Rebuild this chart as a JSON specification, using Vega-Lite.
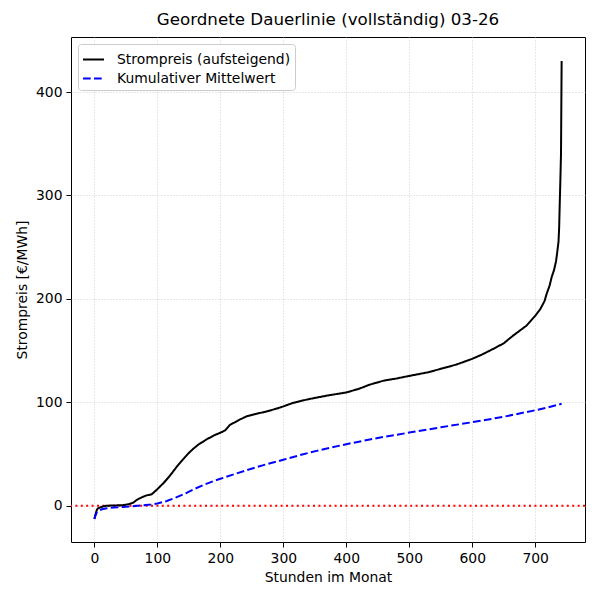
{
  "$schema": "https://vega.github.io/schema/vega-lite/v6.json",
  "autosize": {"type": "none"},
  "width": 514,
  "height": 505,
  "padding": {"left": 71, "top": 37, "right": 15, "bottom": 58},
  "title": {"text": "Geordnete Dauerlinie (vollständig) 03-26", "anchor": "middle", "frame": "group", "fontSize": 16.7, "fontWeight": "normal", "font": "DejaVu Sans", "color": "black", "offset": 8},
  "datasets": {
    "kurven": [
      {"h": 0, "p": -12.9, "serie": "Strompreis (aufsteigend)"},
      {"h": 2, "p": -8, "serie": "Strompreis (aufsteigend)"},
      {"h": 4, "p": -4, "serie": "Strompreis (aufsteigend)"},
      {"h": 6, "p": -2.5, "serie": "Strompreis (aufsteigend)"},
      {"h": 10, "p": -1.5, "serie": "Strompreis (aufsteigend)"},
      {"h": 15, "p": -0.5, "serie": "Strompreis (aufsteigend)"},
      {"h": 20, "p": 0, "serie": "Strompreis (aufsteigend)"},
      {"h": 30, "p": 0.2, "serie": "Strompreis (aufsteigend)"},
      {"h": 45, "p": 0.5, "serie": "Strompreis (aufsteigend)"},
      {"h": 55, "p": 1.5, "serie": "Strompreis (aufsteigend)"},
      {"h": 62, "p": 3, "serie": "Strompreis (aufsteigend)"},
      {"h": 67, "p": 5.5, "serie": "Strompreis (aufsteigend)"},
      {"h": 75, "p": 8, "serie": "Strompreis (aufsteigend)"},
      {"h": 83, "p": 10, "serie": "Strompreis (aufsteigend)"},
      {"h": 91, "p": 11, "serie": "Strompreis (aufsteigend)"},
      {"h": 100, "p": 16, "serie": "Strompreis (aufsteigend)"},
      {"h": 110, "p": 22, "serie": "Strompreis (aufsteigend)"},
      {"h": 120, "p": 29, "serie": "Strompreis (aufsteigend)"},
      {"h": 130, "p": 37, "serie": "Strompreis (aufsteigend)"},
      {"h": 141, "p": 45, "serie": "Strompreis (aufsteigend)"},
      {"h": 150, "p": 51, "serie": "Strompreis (aufsteigend)"},
      {"h": 157, "p": 55, "serie": "Strompreis (aufsteigend)"},
      {"h": 165, "p": 59, "serie": "Strompreis (aufsteigend)"},
      {"h": 178, "p": 64, "serie": "Strompreis (aufsteigend)"},
      {"h": 190, "p": 68, "serie": "Strompreis (aufsteigend)"},
      {"h": 200, "p": 70.5, "serie": "Strompreis (aufsteigend)"},
      {"h": 208, "p": 73, "serie": "Strompreis (aufsteigend)"},
      {"h": 215, "p": 78, "serie": "Strompreis (aufsteigend)"},
      {"h": 230, "p": 83, "serie": "Strompreis (aufsteigend)"},
      {"h": 242, "p": 86.5, "serie": "Strompreis (aufsteigend)"},
      {"h": 258, "p": 89, "serie": "Strompreis (aufsteigend)"},
      {"h": 273, "p": 91, "serie": "Strompreis (aufsteigend)"},
      {"h": 290, "p": 94, "serie": "Strompreis (aufsteigend)"},
      {"h": 300, "p": 96, "serie": "Strompreis (aufsteigend)"},
      {"h": 316, "p": 99.5, "serie": "Strompreis (aufsteigend)"},
      {"h": 340, "p": 103, "serie": "Strompreis (aufsteigend)"},
      {"h": 370, "p": 106.5, "serie": "Strompreis (aufsteigend)"},
      {"h": 400, "p": 109.5, "serie": "Strompreis (aufsteigend)"},
      {"h": 420, "p": 113, "serie": "Strompreis (aufsteigend)"},
      {"h": 437, "p": 117, "serie": "Strompreis (aufsteigend)"},
      {"h": 460, "p": 121, "serie": "Strompreis (aufsteigend)"},
      {"h": 480, "p": 123, "serie": "Strompreis (aufsteigend)"},
      {"h": 500, "p": 125.5, "serie": "Strompreis (aufsteigend)"},
      {"h": 530, "p": 129, "serie": "Strompreis (aufsteigend)"},
      {"h": 554, "p": 133, "serie": "Strompreis (aufsteigend)"},
      {"h": 575, "p": 136.5, "serie": "Strompreis (aufsteigend)"},
      {"h": 600, "p": 142, "serie": "Strompreis (aufsteigend)"},
      {"h": 615, "p": 146, "serie": "Strompreis (aufsteigend)"},
      {"h": 633, "p": 151.5, "serie": "Strompreis (aufsteigend)"},
      {"h": 650, "p": 157, "serie": "Strompreis (aufsteigend)"},
      {"h": 665, "p": 164.5, "serie": "Strompreis (aufsteigend)"},
      {"h": 686, "p": 174, "serie": "Strompreis (aufsteigend)"},
      {"h": 700, "p": 183.6, "serie": "Strompreis (aufsteigend)"},
      {"h": 708, "p": 190, "serie": "Strompreis (aufsteigend)"},
      {"h": 715, "p": 198, "serie": "Strompreis (aufsteigend)"},
      {"h": 718, "p": 204.5, "serie": "Strompreis (aufsteigend)"},
      {"h": 723, "p": 213, "serie": "Strompreis (aufsteigend)"},
      {"h": 726, "p": 220.7, "serie": "Strompreis (aufsteigend)"},
      {"h": 730, "p": 228, "serie": "Strompreis (aufsteigend)"},
      {"h": 733, "p": 236, "serie": "Strompreis (aufsteigend)"},
      {"h": 735, "p": 245, "serie": "Strompreis (aufsteigend)"},
      {"h": 737, "p": 255, "serie": "Strompreis (aufsteigend)"},
      {"h": 738, "p": 268, "serie": "Strompreis (aufsteigend)"},
      {"h": 739, "p": 292, "serie": "Strompreis (aufsteigend)"},
      {"h": 740, "p": 315, "serie": "Strompreis (aufsteigend)"},
      {"h": 741, "p": 340, "serie": "Strompreis (aufsteigend)"},
      {"h": 742, "p": 430, "serie": "Strompreis (aufsteigend)"},
      {"h": 0, "p": -12.9, "serie": "Kumulativer Mittelwert"},
      {"h": 2, "p": -9, "serie": "Kumulativer Mittelwert"},
      {"h": 4, "p": -6.5, "serie": "Kumulativer Mittelwert"},
      {"h": 8, "p": -4.5, "serie": "Kumulativer Mittelwert"},
      {"h": 12, "p": -3.5, "serie": "Kumulativer Mittelwert"},
      {"h": 20, "p": -2.5, "serie": "Kumulativer Mittelwert"},
      {"h": 30, "p": -1.8, "serie": "Kumulativer Mittelwert"},
      {"h": 45, "p": -1.2, "serie": "Kumulativer Mittelwert"},
      {"h": 60, "p": -0.5, "serie": "Kumulativer Mittelwert"},
      {"h": 75, "p": 0.3, "serie": "Kumulativer Mittelwert"},
      {"h": 90, "p": 1.2, "serie": "Kumulativer Mittelwert"},
      {"h": 100, "p": 2.2, "serie": "Kumulativer Mittelwert"},
      {"h": 115, "p": 4.5, "serie": "Kumulativer Mittelwert"},
      {"h": 130, "p": 8, "serie": "Kumulativer Mittelwert"},
      {"h": 145, "p": 12, "serie": "Kumulativer Mittelwert"},
      {"h": 160, "p": 16.5, "serie": "Kumulativer Mittelwert"},
      {"h": 175, "p": 20.5, "serie": "Kumulativer Mittelwert"},
      {"h": 190, "p": 24, "serie": "Kumulativer Mittelwert"},
      {"h": 200, "p": 26, "serie": "Kumulativer Mittelwert"},
      {"h": 220, "p": 30, "serie": "Kumulativer Mittelwert"},
      {"h": 242, "p": 34.4, "serie": "Kumulativer Mittelwert"},
      {"h": 270, "p": 39.5, "serie": "Kumulativer Mittelwert"},
      {"h": 300, "p": 44.4, "serie": "Kumulativer Mittelwert"},
      {"h": 330, "p": 49.5, "serie": "Kumulativer Mittelwert"},
      {"h": 353, "p": 53, "serie": "Kumulativer Mittelwert"},
      {"h": 400, "p": 59.5, "serie": "Kumulativer Mittelwert"},
      {"h": 450, "p": 65.5, "serie": "Kumulativer Mittelwert"},
      {"h": 500, "p": 70.7, "serie": "Kumulativer Mittelwert"},
      {"h": 550, "p": 75.8, "serie": "Kumulativer Mittelwert"},
      {"h": 600, "p": 80.7, "serie": "Kumulativer Mittelwert"},
      {"h": 650, "p": 86, "serie": "Kumulativer Mittelwert"},
      {"h": 700, "p": 92.3, "serie": "Kumulativer Mittelwert"},
      {"h": 720, "p": 95, "serie": "Kumulativer Mittelwert"},
      {"h": 742, "p": 98.5, "serie": "Kumulativer Mittelwert"}
    ]
  },
  "layer": [
    {
      "data": {"values": [{"null_linie": 0}]},
      "mark": {"type": "rule", "color": "red", "strokeWidth": 2, "strokeDash": [2, 3.4]},
      "encoding": {"y": {"field": "null_linie", "type": "quantitative"}}
    },
    {
      "data": {"name": "kurven"},
      "mark": {"type": "line", "strokeWidth": 2},
      "encoding": {
        "x": {
          "field": "h", "type": "quantitative",
          "scale": {"domain": [-37.1, 779.1], "nice": false, "zero": false},
          "axis": {"values": [0, 100, 200, 300, 400, 500, 600, 700], "title": "Stunden im Monat"}
        },
        "y": {
          "field": "p", "type": "quantitative",
          "scale": {"domain": [-35.1, 453.2], "nice": false, "zero": false},
          "axis": {"values": [0, 100, 200, 300, 400], "title": "Strompreis [€/MWh]"}
        },
        "color": {
          "field": "serie", "type": "nominal",
          "scale": {"domain": ["Strompreis (aufsteigend)", "Kumulativer Mittelwert"], "range": ["black", "blue"]},
          "legend": {"title": null}
        },
        "strokeDash": {
          "field": "serie", "type": "nominal",
          "scale": {"domain": ["Strompreis (aufsteigend)", "Kumulativer Mittelwert"], "range": [[1, 0], [7.7, 3.3]]},
          "legend": {"title": null}
        }
      }
    }
  ],
  "config": {
    "font": "DejaVu Sans",
    "view": {"stroke": "black", "strokeWidth": 1},
    "axis": {
      "domain": false,
      "grid": true,
      "gridColor": "#c4c4c4",
      "gridDash": [1, 2],
      "gridWidth": 0.8,
      "tickColor": "black",
      "tickSize": 5,
      "tickWidth": 1,
      "labelFont": "DejaVu Sans",
      "labelFontSize": 13.9,
      "labelColor": "black",
      "labelPadding": 4,
      "titleFont": "DejaVu Sans",
      "titleFontSize": 13.9,
      "titleFontWeight": "normal",
      "titleColor": "black",
      "titlePadding": 6
    },
    "legend": {
      "orient": "top-left",
      "offset": 7,
      "padding": 4,
      "fillColor": "white",
      "strokeColor": "#cccccc",
      "cornerRadius": 3,
      "symbolType": "stroke",
      "symbolSize": 441,
      "symbolStrokeWidth": 2,
      "labelFont": "DejaVu Sans",
      "labelFontSize": 13.9,
      "labelColor": "black",
      "labelOffset": 12,
      "labelLimit": 400,
      "rowPadding": 0
    }
  }
}
